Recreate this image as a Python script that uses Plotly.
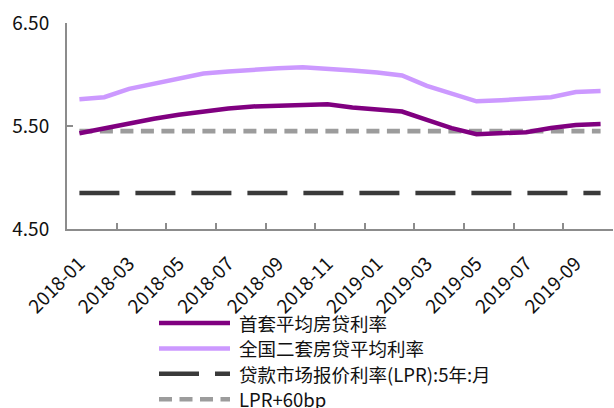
import plotly.graph_objects as go

# Monthly categories
months = ["2018-01", "2018-02", "2018-03", "2018-04", "2018-05", "2018-06",
          "2018-07", "2018-08", "2018-09", "2018-10", "2018-11", "2018-12",
          "2019-01", "2019-02", "2019-03", "2019-04", "2019-05", "2019-06",
          "2019-07", "2019-08", "2019-09", "2019-10"]

# Rates (%)
first_home = [5.43, 5.48, 5.53, 5.57, 5.61, 5.645, 5.67, 5.69, 5.70, 5.705, 5.71,
              5.68, 5.66, 5.64, 5.56, 5.48, 5.42, 5.43, 5.44, 5.48, 5.51, 5.52]
second_home = [5.76, 5.78, 5.86, 5.91, 5.96, 6.01, 6.03, 6.05, 6.06, 6.07, 6.06,
               6.04, 6.02, 5.99, 5.89, 5.81, 5.74, 5.75, 5.765, 5.78, 5.83, 5.84]
lpr_5y = [4.85] * len(months)
lpr_plus_60 = [5.45] * len(months)

names = ["首套平均房贷利率", "全国二套房贷平均利率", "贷款市场报价利率(LPR):5年:月", "LPR+60bp"]
y_ticks = [4.50, 5.50, 6.50]

FONT = "Noto Sans CJK SC, Noto Sans, sans-serif"
styles = [
    dict(color="#800080", width=4.5, dash="solid"),
    dict(color="#CC99FF", width=4.5, dash="solid"),
    dict(color="#3A3A3A", width=4.6, dash="40px,16px"),
    dict(color="#9C9C9C", width=4.6, dash="13px,7.5px"),
]
series = [first_home, second_home, lpr_5y, lpr_plus_60]

fig = go.Figure()
# draw the reference lines first so the rate curves sit on top
for idx in [3, 2, 1, 0]:
    fig.add_trace(go.Scatter(x=months, y=series[idx], mode="lines", name=names[idx],
                             line=styles[idx], showlegend=False, hoverinfo="skip"))

# Hand-built legend below the plot (pixel offsets from the plot's bottom-left)
for k, (nm, st) in enumerate(zip(names, styles)):
    dy = -94 - 25.4 * k
    fig.add_shape(type="line", xref="paper", yref="paper",
                  xsizemode="pixel", ysizemode="pixel", xanchor=0, yanchor=0,
                  x0=92, x1=163, y0=dy, y1=dy,
                  line=dict(color=st["color"], width=st["width"], dash=st["dash"]))
    fig.add_annotation(text=nm, xref="paper", yref="paper", x=0, y=0,
                       xshift=170, yshift=dy, xanchor="left", yanchor="middle",
                       showarrow=False, font=dict(family=FONT, size=18.5, color="#111111"))

axis_color = "#8C8C8C"
fig.update_layout(
    width=614, height=408,
    margin=dict(l=67, r=1, t=23, b=179),
    paper_bgcolor="white", plot_bgcolor="white",
    font=dict(family=FONT, size=18, color="#111111"),
    showlegend=False,
    xaxis=dict(type="category", range=[-0.5, len(months) - 0.5],
               tickson="boundaries", tickmode="linear", tick0=0, dtick=2,
               ticks="inside", ticklen=6, tickwidth=1.5, tickcolor=axis_color,
               showline=True, linecolor=axis_color, linewidth=2,
               showgrid=False, zeroline=False, tickangle=-45,
               ticklabelstandoff=14,
               tickfont=dict(family=FONT, size=19, color="#111111")),
    yaxis=dict(range=[4.5, 6.5], tickmode="array", tickvals=y_ticks,
               tickformat=".2f", ticks="inside", ticklen=6, tickwidth=1.5,
               tickcolor=axis_color, showline=True, linecolor=axis_color, linewidth=2,
               showgrid=False, zeroline=False, ticklabelstandoff=12,
               tickfont=dict(family=FONT, size=19, color="#111111")),
)

fig.write_html("out.html")
